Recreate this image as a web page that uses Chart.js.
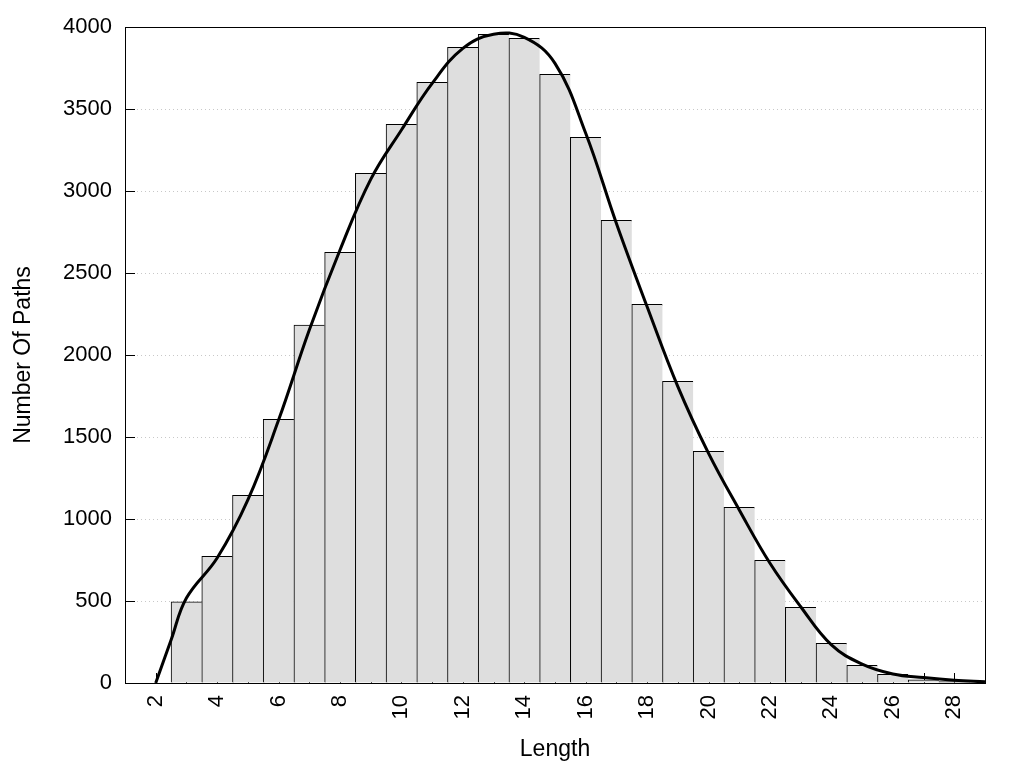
<!DOCTYPE html>
<html>
<head>
<meta charset="utf-8">
<script src="https://cdn.jsdelivr.net/npm/chart.js@4/dist/chart.umd.min.js"></script>
<style>
  html, body { margin: 0; padding: 0; background: #fff; }
  canvas { display: block; }
</style>
</head>
<body>
<canvas id="pathChart" width="1024" height="768"></canvas>
<script>
// histogram bins (path length) and counts
const lengths = [3, 4, 5, 6, 7, 8, 9, 10, 11, 12, 13, 14, 15, 16, 17, 18, 19, 20, 21, 22, 23, 24, 25, 26, 27, 28];
const counts = [495, 772, 1144, 1608, 2183, 2626, 3108, 3407, 3663, 3876, 3956, 3931, 3712, 3327, 2821, 2309, 1840, 1413, 1071, 748, 461, 242, 108, 53, 20, 8];

// smoothed density curve
const curveX = [2, 2.5, 3, 4, 5, 6, 7, 8, 9, 10, 11, 12, 13, 14, 15, 16, 17, 18, 19, 20, 21, 22, 23, 24, 25, 26, 27, 28, 29];
const curveY = [0, 262, 518, 762, 1116, 1603, 2152, 2640, 3071, 3372, 3656, 3870, 3956, 3937, 3778, 3352, 2802, 2294, 1807, 1400, 1055, 730, 465, 232, 115, 55, 33, 17, 8];

const yTicks = [0, 500, 1000, 1500, 2000, 2500, 3000, 3500, 4000];

const font = 'Liberation Sans, Arial, sans-serif';

// short tick marks pointing into the plot, drawn under the bars
const inwardTicks = {
  id: 'inwardTicks',
  beforeDatasetsDraw(chart) {
    const { ctx, chartArea: a, scales: { x, y } } = chart;
    ctx.save();
    ctx.strokeStyle = '#000';
    ctx.lineWidth = 1;
    ctx.beginPath();
    y.ticks.forEach(t => {
      const py = Math.round(y.getPixelForValue(t.value)) + 0.5;
      ctx.moveTo(a.left, py);
      ctx.lineTo(a.left + 10, py);
    });
    x.ticks.forEach(t => {
      const px = Math.round(x.getPixelForValue(t.value)) + 0.5;
      ctx.moveTo(px, a.bottom);
      ctx.lineTo(px, a.bottom - 10);
    });
    ctx.stroke();
    ctx.restore();
  }
};

// box around the plot area
const frame = {
  id: 'frame',
  afterDraw(chart) {
    const { ctx, chartArea: a } = chart;
    ctx.save();
    ctx.strokeStyle = '#000';
    ctx.lineWidth = 1;
    ctx.strokeRect(Math.round(a.left) + 0.5, Math.round(a.top) + 0.5,
      Math.round(a.right - a.left), Math.round(a.bottom - a.top));
    ctx.restore();
  }
};

const lastBar = lengths.length - 1;

new Chart(document.getElementById('pathChart'), {
  type: 'bar',
  data: {
    datasets: [
      {
        type: 'line',
        data: curveX.map((v, i) => ({ x: v, y: curveY[i] })),
        borderColor: '#000',
        borderWidth: 3,
        pointRadius: 0,
        fill: false,
        tension: 0.4,
        order: 0
      },
      {
        type: 'bar',
        data: lengths.map((v, i) => ({ x: v, y: counts[i] })),
        backgroundColor: '#dedede',
        borderColor: '#000',
        borderWidth: ctx => ctx.dataIndex === lastBar
          ? { top: 1, left: 1, right: 1, bottom: 0 }
          : { top: 1, left: 1, right: 0, bottom: 0 },
        borderSkipped: false,
        barPercentage: 1,
        categoryPercentage: 1,
        order: 1
      }
    ]
  },
  options: {
    responsive: false,
    animation: false,
    devicePixelRatio: 1,
    layout: { padding: { top: 27, right: 39, left: 0, bottom: 0 } },
    plugins: {
      legend: { display: false },
      tooltip: { enabled: false }
    },
    scales: {
      x: {
        type: 'linear',
        min: 1,
        max: 29,
        offset: false,
        grid: { display: false, drawTicks: false },
        border: { display: false },
        ticks: {
          stepSize: 1,
          autoSkip: false,
          minRotation: 90,
          maxRotation: 90,
          padding: 12,
          color: '#000',
          font: { family: font, size: 22 },
          callback: v => (v % 2 === 0 && v >= 2 && v <= 28) ? String(v) : ''
        },
        title: {
          display: true,
          text: 'Length',
          color: '#000',
          font: { family: font, size: 23 },
          padding: { top: 0, bottom: 5 }
        },
        afterFit: s => { s.height = 85; }
      },
      y: {
        min: 0,
        max: 4000,
        grid: { color: '#c8c8c8', lineWidth: 1, drawTicks: false },
        border: { display: false, dash: [1, 3] },
        ticks: {
          stepSize: 500,
          padding: 13,
          color: '#000',
          font: { family: font, size: 22 },
          callback: v => yTicks.includes(v) ? String(v) : ''
        },
        title: {
          display: true,
          text: 'Number Of Paths',
          color: '#000',
          font: { family: font, size: 23 },
          padding: { top: 10, bottom: 0 }
        },
        afterFit: s => { s.width = 125; }
      }
    }
  },
  plugins: [inwardTicks, frame]
});
</script>
</body>
</html>
